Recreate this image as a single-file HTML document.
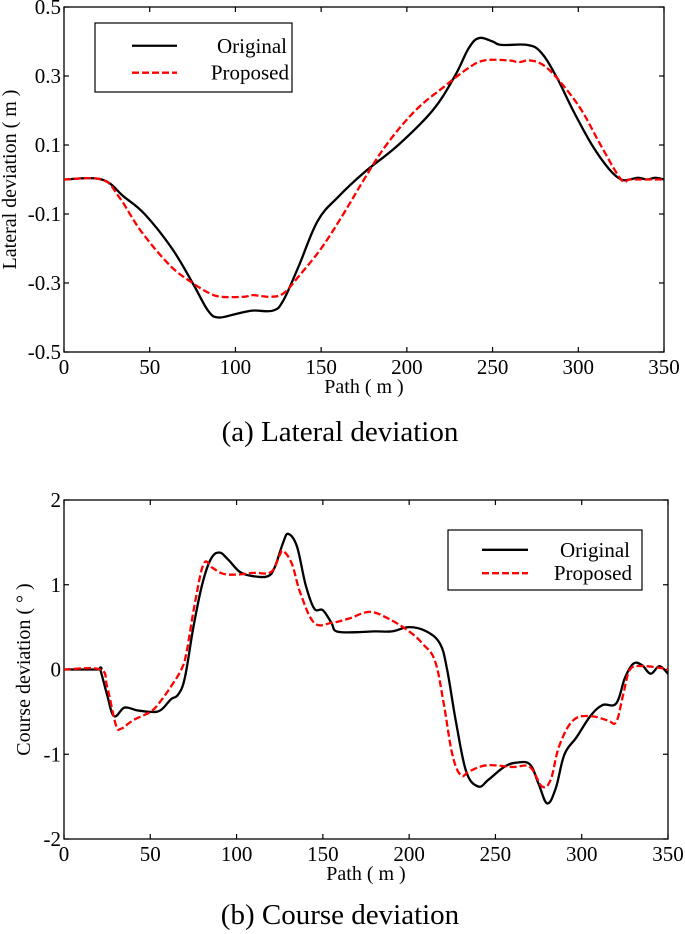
<!DOCTYPE html>
<html><head><meta charset="utf-8"><style>
html,body{margin:0;padding:0;background:#fff;}
svg{display:block;font-family:"Liberation Serif",serif;}
</style></head><body>
<svg id="fig" width="685" height="934" viewBox="0 0 685 934" xmlns="http://www.w3.org/2000/svg"></svg>
<script>
// ---- Chart (a) data ----
const latX = [0,22,35,47,63,75,84,90,100,110,122,128,137,148,160,175,195,215,228,236,242,250,255,270,278,287,297,308,318,325,330,335,340,345,350];
const latOrig = [0,0,-0.05,-0.1,-0.2,-0.3,-0.38,-0.40,-0.39,-0.38,-0.38,-0.35,-0.25,-0.12,-0.05,0.02,0.1,0.2,0.3,0.38,0.41,0.40,0.39,0.39,0.37,0.3,0.2,0.1,0.03,0.0,0.0,0.005,0.0,0.005,0.0];
const latPropX = [0,22,32,45,62,75,85,92,105,110,120,128,137,150,163,175,188,205,222,235,245,260,265,272,280,290,302,313,325,330,340,350];
const latProp = [0,0,-0.05,-0.15,-0.25,-0.3,-0.33,-0.34,-0.34,-0.335,-0.34,-0.33,-0.28,-0.2,-0.1,0.0,0.1,0.2,0.27,0.32,0.345,0.345,0.34,0.345,0.33,0.28,0.2,0.1,0.0,0.0,0.0,0.0];
const latYTicks = [0.5,0.3,0.1,-0.1,-0.3,-0.5];
const xTicks = [0,50,100,150,200,250,300,350];
// ---- Chart (b) data ----
const crsX = [0,20,21,25,29,35,42,50,56,62,66,70,75,80,85,90,95,102,110,118,122,127,130,135,140,145,150,155,158,170,180,190,200,210,218,222,227,233,240,246,255,262,270,275,280,285,290,297,305,312,320,325,330,335,340,345,350];
const crsOrig = [0,0,0,-0.3,-0.55,-0.45,-0.48,-0.5,-0.48,-0.35,-0.3,-0.1,0.5,1.0,1.3,1.38,1.3,1.15,1.1,1.1,1.2,1.5,1.6,1.45,1.0,0.72,0.7,0.55,0.45,0.44,0.45,0.45,0.5,0.45,0.3,0.0,-0.6,-1.2,-1.38,-1.3,-1.15,-1.1,-1.12,-1.35,-1.58,-1.4,-1.0,-0.8,-0.55,-0.42,-0.4,-0.1,0.07,0.05,-0.05,0.04,-0.05];
const crsPropX = [0,21,25,30,33,40,50,55,62,68,71,76,81,86,92,100,110,120,125,127,132,137,145,155,165,177,188,200,208,215,220,225,230,235,245,260,270,277,282,287,295,305,315,320,324,328,335,345,350];
const crsProp = [0,0,-0.2,-0.65,-0.7,-0.6,-0.5,-0.4,-0.2,0.0,0.2,0.8,1.25,1.2,1.13,1.12,1.14,1.15,1.35,1.4,1.25,0.9,0.55,0.55,0.6,0.68,0.6,0.45,0.3,0.1,-0.4,-1.0,-1.25,-1.2,-1.13,-1.15,-1.15,-1.38,-1.3,-0.9,-0.6,-0.55,-0.6,-0.62,-0.3,0.0,0.04,0.02,0.0];
const crsYTicks = [2,1,0,-1,-2];
const legendLabels = ["Original","Proposed"];

const NS = "http://www.w3.org/2000/svg";
const svg = document.getElementById("fig");
function mk(tag, attrs, parent, text){
  const e = document.createElementNS(NS, tag);
  for (const k in attrs) e.setAttribute(k, attrs[k]);
  if (text !== undefined) e.textContent = text;
  (parent||svg).appendChild(e);
  return e;
}
function smoothPath(pts){
  let d = "M"+pts[0][0].toFixed(1)+","+pts[0][1].toFixed(1);
  const k = 0.18;
  for (let i=0;i<pts.length-1;i++){
    const p0 = pts[Math.max(0,i-1)], p1 = pts[i], p2 = pts[i+1], p3 = pts[Math.min(pts.length-1,i+2)];
    const c1x = p1[0]+(p2[0]-p0[0])*k, c1y = p1[1]+(p2[1]-p0[1])*k;
    const c2x = p2[0]-(p3[0]-p1[0])*k, c2y = p2[1]-(p3[1]-p1[1])*k;
    d += " C"+c1x.toFixed(1)+","+c1y.toFixed(1)+" "+c2x.toFixed(1)+","+c2y.toFixed(1)+" "+p2[0].toFixed(1)+","+p2[1].toFixed(1);
  }
  return d;
}

function chart(cfg){
  const g = mk("g", {});
  
  
  const {L,R,T,B,ymin,ymax} = cfg;
  const sx = v => L + (v-0)/(350-0)*(R-L);
  const sy = v => B - (v-ymin)/(ymax-ymin)*(B-T);
  const fr = mk("rect", {x:L,y:T,width:R-L,height:B-T,fill:"none",stroke:"#000","stroke-width":1.3}, g);
  
  
  xTicks.forEach(t=>{
    const x = sx(t);
    mk("line",{x1:x,y1:B,x2:x,y2:B-5,stroke:"#000","stroke-width":1.2},g);
    mk("line",{x1:x,y1:T,x2:x,y2:T+5,stroke:"#000","stroke-width":1.2},g);
    const tl = mk("text",{x:x,y:B+22,"font-size":21,"text-anchor":"middle",fill:"#000"},g,String(t));
    
    
  });
  cfg.yTicks.forEach(t=>{
    const y = sy(t);
    mk("line",{x1:L,y1:y,x2:L+5,y2:y,stroke:"#000","stroke-width":1.2},g);
    mk("line",{x1:R,y1:y,x2:R-5,y2:y,stroke:"#000","stroke-width":1.2},g);
    const tl = mk("text",{x:L-3,y:y+7,"font-size":21,"text-anchor":"end",fill:"#000"},g,String(t));
    
    
  });
  const line = (xs, ys, color, dash, nm) => {
    const pts = xs.map((x,i)=>[sx(x), sy(ys[i])]);
    const p = mk("path",{d:smoothPath(pts),fill:"none",stroke:color,"stroke-width":2.3,"stroke-linejoin":"round"},g);
    if (dash) p.setAttribute("stroke-dasharray", dash);
    
    
  };
  line(cfg.ox, cfg.oy, "#000", null, "series-original");
  line(cfg.px, cfg.py, "#f00", "7,3", "series-proposed");
  const lg = mk("g",{},g);
  
  
  const {lx,ly,lw,lh} = cfg.leg;
  mk("rect",{x:lx,y:ly,width:lw,height:lh,fill:"#fff",stroke:"#000","stroke-width":1.2},lg);
  const e1 = mk("line",{x1:lx+cfg.leg.s1,y1:ly+lh*0.33,x2:lx+cfg.leg.s2,y2:ly+lh*0.33,stroke:"#000","stroke-width":2.3},lg);
  
  
  const e2 = mk("line",{x1:lx+cfg.leg.s1,y1:ly+lh*0.72,x2:lx+cfg.leg.s2,y2:ly+lh*0.72,stroke:"#f00","stroke-width":2.3,"stroke-dasharray":"7,3"},lg);
  
  
  const t1 = mk("text",{x:lx+lw-cfg.leg.tr,y:ly+lh*0.33+7,"font-size":21,"text-anchor":"end"},lg,legendLabels[0]);
  
  
  const t2 = mk("text",{x:lx+lw-cfg.leg.tr+2,y:ly+lh*0.72+7,"font-size":21,"text-anchor":"end"},lg,legendLabels[1]);
  
  
  const xt = mk("text",{x:(L+R)/2,y:B+41,"font-size":20,"text-anchor":"middle"},g,"Path ( m )");
  
  
  const cy = (T+B)/2;
  const yt = mk("text",{x:0,y:0,"font-size":20,"text-anchor":"middle",transform:`translate(${cfg.ytx},${cy}) rotate(-90)`},g,cfg.ytitle);
  
  
  const cap = mk("text",{x:340,y:cfg.capY,"font-size":29,"text-anchor":"middle"},g,cfg.caption);
  
  
}

chart({name:"lateral-deviation-chart",L:64,R:664,T:7,B:352,ymin:-0.5,ymax:0.5,yTicks:latYTicks,
  ox:latX,oy:latOrig,px:latPropX,py:latProp,
  leg:{lx:95,ly:23,lw:197,lh:69,s1:37,s2:82,tr:5},
  ytx:16,ytitle:"Lateral deviation ( m )",capY:441,caption:"(a) Lateral deviation"});
chart({name:"course-deviation-chart",L:64,R:668,T:500,B:839,ymin:-2,ymax:2,yTicks:crsYTicks,
  ox:crsX,oy:crsOrig,px:crsPropX,py:crsProp,
  leg:{lx:448,ly:530,lw:194,lh:60,s1:34,s2:80,tr:12},
  ytx:30,ytitle:"Course deviation ( \u00B0 )",capY:924,caption:"(b) Course deviation"});
</script>
</body></html>
